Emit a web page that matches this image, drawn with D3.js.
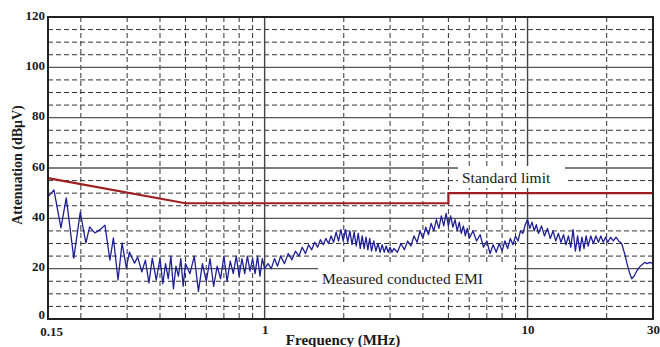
<!DOCTYPE html>
<html>
<head>
<meta charset="utf-8">
<script src="https://cdn.jsdelivr.net/npm/d3@7"></script>
<style>
  body { margin: 0; background: #fff; }
  svg { display: block; }
</style>
</head>
<body>
<svg id="chart"></svg>
<script>
// axis ticks
const xTicks = [0.15, 1, 10, 30];
const xMinor = [0.2, 0.3, 0.4, 0.5, 0.6, 0.7, 0.8, 0.9, 2, 3, 4, 5, 6, 7, 8, 9, 20];
const yTicks = [0, 20, 40, 60, 80, 100, 120];
const yMinor = [5, 10, 15, 25, 30, 35, 45, 50, 55, 65, 70, 75, 85, 90, 95, 105, 110, 115];

// standard limit (MHz, dBuV)
const limitFreq = [0.15, 0.5, 5, 5, 30];
const limitDb = [56, 46, 46, 50, 50];

// measured conducted EMI (MHz, dBuV)
const emiTrace = [
  [0.150, 48.5], [0.158, 51.3], [0.168, 36.2], [0.176, 48.1], [0.188, 24.2], [0.199, 42.5],
  [0.209, 30.2], [0.216, 36.6], [0.226, 34.2], [0.236, 35.4], [0.247, 37.3], [0.258, 23.4],
  [0.266, 32.2], [0.277, 15.5], [0.287, 30.2], [0.298, 20.3], [0.306, 26.6], [0.320, 22.2],
  [0.329, 24.6], [0.341, 18.7], [0.352, 23.4], [0.363, 14.3], [0.374, 24.2], [0.387, 15.5],
  [0.40, 24], [0.41, 14], [0.42, 22], [0.43, 16], [0.44, 25], [0.45, 12], [0.46, 21],
  [0.47, 17], [0.48, 24], [0.49, 13], [0.50, 22], [0.52, 18], [0.54, 25], [0.56, 11],
  [0.58, 22], [0.60, 15], [0.62, 24], [0.64, 13], [0.66, 21], [0.68, 16], [0.70, 25],
  [0.72, 15], [0.74, 23], [0.76, 18], [0.78, 25], [0.80, 17], [0.82, 24], [0.84, 18],
  [0.86, 25], [0.88, 19], [0.90, 24], [0.92, 18], [0.94, 25], [0.96, 17], [0.98, 24], [1.00, 20],
  [1.03, 22], [1.06, 20], [1.09, 24], [1.12, 21], [1.15, 25], [1.19, 22], [1.23, 26],
  [1.27, 23.5], [1.31, 27], [1.35, 25], [1.39, 28.5], [1.43, 26], [1.47, 29.5], [1.51, 27.5],
  [1.55, 30.5], [1.59, 28.5], [1.63, 31.5], [1.67, 29.5], [1.71, 32], [1.75, 30], [1.79, 33],
  [1.83, 30.5], [1.87, 34.5], [1.91, 31], [1.95, 35.5], [1.99, 31], [2.03, 35.5], [2.07, 30.5],
  [2.11, 35], [2.15, 29.5], [2.19, 34.5], [2.23, 29], [2.27, 34], [2.31, 28], [2.35, 33],
  [2.39, 28], [2.43, 32.5], [2.47, 27.5], [2.51, 32], [2.55, 27], [2.60, 31], [2.65, 27],
  [2.70, 30], [2.75, 26.5], [2.80, 29.5], [2.85, 26.5], [2.90, 29], [2.95, 26.5], [3.00, 28.5],
  [3.05, 26.5],
  [3.1, 28], [3.2, 26.5], [3.3, 30], [3.4, 27.5], [3.5, 31], [3.6, 29], [3.7, 33], [3.8, 30.5],
  [3.9, 35], [4.0, 32], [4.1, 36.5], [4.2, 33.5], [4.3, 38], [4.4, 35], [4.5, 39.5], [4.6, 36],
  [4.7, 41], [4.8, 37], [4.9, 42], [5.0, 37], [5.1, 41], [5.2, 36.5], [5.3, 39.5], [5.4, 35],
  [5.5, 38.5], [5.6, 34], [5.7, 37], [5.8, 33], [5.9, 36], [6.0, 32], [6.2, 35], [6.4, 31],
  [6.6, 33.5], [6.8, 28.5], [7.0, 31], [7.2, 26], [7.4, 29.5], [7.6, 26.5], [7.8, 30], [8.0, 27],
  [8.2, 31], [8.4, 28], [8.6, 32], [8.8, 29.5], [9.0, 33], [9.2, 31], [9.4, 35], [9.6, 34],
  [9.8, 37.5], [10.0, 39.5],
  [10.2, 36], [10.4, 38.5], [10.6, 35], [10.8, 37.5], [11.0, 34], [11.3, 37], [11.6, 33],
  [11.9, 36], [12.2, 32], [12.5, 35], [12.8, 31], [13.1, 34], [13.4, 30.5], [13.7, 33.5],
  [14.0, 29.5], [14.3, 33], [14.6, 28.5], [14.9, 35.5], [15.2, 27], [15.5, 33], [15.8, 27],
  [16.1, 32.5], [16.4, 28], [16.7, 33], [17.0, 29], [17.4, 33], [17.8, 30], [18.2, 33],
  [18.6, 30.5], [19.0, 33], [19.4, 30.5], [19.8, 32.5], [20.2, 30.5], [20.7, 32.5], [21.2, 31],
  [21.7, 32.5], [22.2, 31], [22.8, 30], [23.4, 26], [23.9, 22], [24.4, 18.5], [24.9, 16],
  [25.4, 17], [26.0, 19], [26.6, 20.5], [27.2, 21.5], [27.9, 22.5], [28.5, 22], [29.2, 22.5], [30, 22]
];

const svgWidth = 660, svgHeight = 347;
const margin = { top: 17, right: 7, bottom: 28, left: 48 };
const plotRight = svgWidth - margin.right, plotBottom = svgHeight - margin.bottom;

const serif = "'Liberation Serif', 'Times New Roman', serif";

const xScale = d3.scaleLog().domain([0.15, 30]).range([margin.left, plotRight]);
const yScale = d3.scaleLinear().domain([0, 120]).range([plotBottom, margin.top]);

const svg = d3.select('#chart')
  .attr('width', svgWidth)
  .attr('height', svgHeight);

svg.append('rect').attr('width', svgWidth).attr('height', svgHeight).attr('fill', '#fff');

// dashed minor grid
const grid = svg.append('g');
grid.selectAll('.hminor').data(yMinor).enter().append('line')
  .attr('x1', margin.left).attr('x2', plotRight)
  .attr('y1', d => yScale(d)).attr('y2', d => yScale(d))
  .attr('stroke', '#333').attr('stroke-width', 1).attr('stroke-dasharray', '5,3');
grid.selectAll('.vminor').data(xMinor).enter().append('line')
  .attr('y1', margin.top).attr('y2', plotBottom)
  .attr('x1', d => xScale(d)).attr('x2', d => xScale(d))
  .attr('stroke', '#333').attr('stroke-width', 1).attr('stroke-dasharray', '5,3');

// solid major grid
grid.selectAll('.hmajor').data(yTicks.slice(1, -1)).enter().append('line')
  .attr('x1', margin.left).attr('x2', plotRight)
  .attr('y1', d => yScale(d)).attr('y2', d => yScale(d))
  .attr('stroke', '#555').attr('stroke-width', 1.4);
grid.selectAll('.vmajor').data([1, 10]).enter().append('line')
  .attr('y1', margin.top).attr('y2', plotBottom)
  .attr('x1', d => xScale(d)).attr('x2', d => xScale(d))
  .attr('stroke', '#444').attr('stroke-width', 1.4);

// white boxes behind the annotations
svg.append('rect').attr('x', 458).attr('y', 166).attr('width', 107).attr('height', 22).attr('fill', '#fff');
svg.append('rect').attr('x', 318).attr('y', 263).attr('width', 196).attr('height', 28).attr('fill', '#fff');

// limit line
const freqLine = d3.line().x(d => xScale(d[0])).y(d => yScale(d[1]));
svg.append('path')
  .datum(limitFreq.map((f, i) => [f, limitDb[i]]))
  .attr('d', freqLine)
  .attr('fill', 'none')
  .attr('stroke', '#9e1f22')
  .attr('stroke-width', 2.2);

// measured trace
svg.append('path')
  .datum(emiTrace)
  .attr('d', freqLine)
  .attr('fill', 'none')
  .attr('stroke', '#1f1f96')
  .attr('stroke-width', 1.3)
  .attr('stroke-linejoin', 'round');

// plot border
svg.append('rect')
  .attr('x', margin.left).attr('y', margin.top)
  .attr('width', plotRight - margin.left).attr('height', plotBottom - margin.top)
  .attr('fill', 'none').attr('stroke', '#222').attr('stroke-width', 2);

// axes (labels only)
const yAxis = d3.axisLeft(yScale).tickValues(yTicks).tickSize(0).tickPadding(3);
const gy = svg.append('g').attr('transform', `translate(${margin.left}, -2)`).call(yAxis);

const xAxis = d3.axisBottom(xScale).tickValues(xTicks).tickFormat(d => d).tickSize(0).tickPadding(6);
const gx = svg.append('g').attr('transform', `translate(0, ${plotBottom})`).call(xAxis);

[gx, gy].forEach(g => {
  g.select('.domain').remove();
  g.selectAll('text')
    .attr('font-family', serif)
    .attr('font-weight', 'bold')
    .attr('font-size', 13)
    .attr('fill', '#1a1a1a');
});
gy.selectAll('text').filter(d => d === 0).attr('dy', '0.15em');
gx.selectAll('text').filter(d => d === 0.15).attr('dx', 3).attr('y', 8);

// axis titles
svg.append('text')
  .attr('x', 343).attr('y', 345)
  .attr('text-anchor', 'middle')
  .attr('font-family', serif).attr('font-weight', 'bold').attr('font-size', 15)
  .attr('fill', '#1a1a1a')
  .text('Frequency (MHz)');

svg.append('text')
  .attr('transform', 'translate(22, 165) rotate(-90)')
  .attr('text-anchor', 'middle')
  .attr('font-family', serif).attr('font-weight', 'bold').attr('font-size', 14)
  .attr('fill', '#1a1a1a')
  .text('Attenuation (dBμV)');

// annotations
svg.append('text')
  .attr('x', 462).attr('y', 183)
  .attr('font-family', serif).attr('font-size', 15.5).attr('fill', '#1a1a1a')
  .text('Standard limit');

svg.append('text')
  .attr('x', 322).attr('y', 284)
  .attr('font-family', serif).attr('font-size', 15.5).attr('fill', '#1a1a1a')
  .text('Measured conducted EMI');
</script>
</body>
</html>
